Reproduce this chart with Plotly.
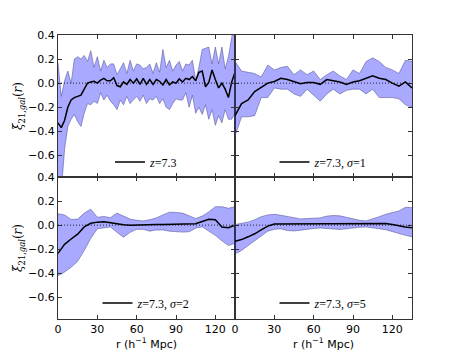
import plotly.graph_objects as go
from plotly.subplots import make_subplots

# separation r (h^-1 Mpc)
r_fine = [i * 2.5 for i in range(55)]          # z=7.3, unsmoothed
r_coarse = [i * 5 for i in range(28)]          # smoothed panels

# z=7.3
mean_1 = [-0.33, -0.37, -0.31, -0.2, -0.14, -0.12, -0.11, -0.10, -0.05, 0.0,
          0.01, 0.015, 0.0, 0.025, 0.04, 0.02, 0.02, 0.045, -0.02, -0.03,
          0.01, -0.01, 0.03, 0.0, 0.035, -0.01, 0.04, -0.01, 0.03, -0.01,
          0.03, 0.015, -0.015, 0.03, -0.015, 0.01, 0.0, 0.035, 0.01, 0.04,
          0.03, 0.055, 0.02, 0.09, 0.1, -0.03, 0.005, 0.11, 0.03, -0.04,
          0.0, -0.05, -0.12, 0.01, 0.09]
upper_1 = [0.17, -0.11, 0.02, 0.1, 0.0, 0.2, 0.22, 0.2, 0.23, 0.18,
           0.27, 0.13, 0.22, 0.1, 0.19, 0.13, 0.16, 0.16, 0.07, 0.12,
           0.17, 0.08, 0.19, 0.1, 0.16, 0.15, 0.12, 0.13, 0.16, 0.08,
           0.17, 0.09, 0.28, 0.13, 0.19, 0.1, 0.15, 0.18, 0.1, 0.16,
           0.15, 0.19, 0.025, 0.13, 0.28, 0.29, 0.3, 0.16, 0.3, 0.16,
           0.3, 0.12, 0.22, 0.38, 0.6]
lower_1 = [-0.9, -0.9, -0.55, -0.36, -0.3, -0.26, -0.32, -0.36, -0.25, -0.17,
           -0.18, -0.15, -0.17, -0.08, -0.14, -0.1, -0.15, -0.18, -0.22, -0.14,
           -0.18, -0.11, -0.17, -0.14, -0.11, -0.15, -0.1, -0.17, -0.13, -0.14,
           -0.11, -0.17, -0.13, -0.2, -0.22, -0.17, -0.13, -0.14, -0.14, -0.08,
           -0.2, -0.1, -0.25, -0.2, -0.26, -0.18, -0.3, -0.22, -0.35, -0.27,
           -0.33, -0.22, -0.3, -0.3, -0.25]

# z=7.3, sigma=1
mean_2 = [-0.27, -0.17, -0.14, -0.07, -0.035, 0.0, 0.014, 0.04, 0.03, 0.01,
          -0.005, 0.005, 0.005, -0.01, 0.03, 0.02, 0.01, -0.01, 0.01, 0.02,
          0.04, 0.06, 0.04, 0.03, 0.0, -0.025, 0.01, -0.04]
upper_2 = [0.18, 0.1, 0.09, 0.08, 0.05, 0.15, 0.11, 0.13, 0.14, 0.07,
           0.11, 0.07, 0.1, 0.03, 0.07, 0.1, 0.06, 0.03, 0.11, 0.08,
           0.18, 0.21, 0.18, 0.13, 0.11, 0.08, 0.19, 0.18]
lower_2 = [-0.44, -0.28, -0.28, -0.27, -0.12, -0.12, -0.04, -0.05, -0.05, -0.09,
           -0.11, -0.05, -0.1, -0.15, -0.09, -0.05, -0.09, -0.06, -0.05, -0.05,
           -0.09, -0.05, -0.12, -0.12, -0.12, -0.13, -0.18, -0.2]

# z=7.3, sigma=2
mean_3 = [-0.235, -0.16, -0.115, -0.075, -0.015, 0.015, 0.025, 0.028, 0.02, 0.01,
          0.003, 0.0, 0.003, 0.005, 0.006, 0.006, 0.006, 0.006, 0.006, 0.006,
          0.008, 0.012, 0.03, 0.048, 0.045, -0.015, -0.022, 0.0]
upper_3 = [0.094, 0.085, 0.047, 0.05, 0.1, 0.133, 0.065, 0.072, 0.062, 0.1,
           0.075, 0.05, 0.04, 0.035, 0.045, 0.06, 0.085, 0.108, 0.105, 0.1,
           0.078, 0.055, 0.075, 0.11, 0.153, 0.153, 0.14, 0.153]
lower_3 = [-0.42, -0.39, -0.35, -0.3, -0.21, -0.11, -0.03, -0.02, -0.015, -0.06,
           -0.1, -0.06, -0.035, -0.035, -0.05, -0.04, -0.04, -0.05, -0.055, -0.058,
           -0.055, -0.025, -0.014, -0.05, -0.085, -0.13, -0.17, -0.15]

# z=7.3, sigma=5
mean_4 = [-0.135, -0.12, -0.097, -0.072, -0.04, -0.008, 0.01, 0.01, 0.01, 0.01,
          0.01, 0.01, 0.01, 0.01, 0.01, 0.01, 0.008, 0.008, 0.008, 0.008,
          0.008, 0.008, 0.012, 0.014, 0.005, -0.008, -0.015, -0.022]
upper_4 = [0.005, 0.012, 0.025, 0.045, 0.07, 0.085, 0.09, 0.082, 0.07, 0.06,
           0.052, 0.055, 0.058, 0.06, 0.075, 0.08, 0.077, 0.065, 0.05, 0.04,
           0.035, 0.05, 0.07, 0.09, 0.105, 0.118, 0.148, 0.145]
lower_4 = [-0.24, -0.21, -0.17, -0.13, -0.085, -0.05, -0.035, -0.03, -0.045, -0.048,
           -0.042, -0.033, -0.028, -0.024, -0.03, -0.034, -0.036, -0.03, -0.022, -0.018,
           -0.015, -0.02, -0.03, -0.038, -0.055, -0.07, -0.085, -0.097]

labels = ["<i>z</i>=7.3", "<i>z</i>=7.3, <i>σ</i>=1",
          "<i>z</i>=7.3, <i>σ</i>=2", "<i>z</i>=7.3, <i>σ</i>=5"]

panels = [
    (1, 1, r_fine, mean_1, upper_1, lower_1),
    (1, 2, r_coarse, mean_2, upper_2, lower_2),
    (2, 1, r_coarse, mean_3, upper_3, lower_3),
    (2, 2, r_coarse, mean_4, upper_4, lower_4),
]

fig = make_subplots(rows=2, cols=2, horizontal_spacing=0, vertical_spacing=0)

for k, (row, col, r, m, up, lo) in enumerate(panels):
    leg = "legend" if k == 0 else "legend%d" % (k + 1)
    fig.add_trace(go.Scatter(x=r, y=up, mode="lines", showlegend=False,
                             line=dict(color="rgba(80,80,150,0.55)", width=1)),
                  row=row, col=col)
    fig.add_trace(go.Scatter(x=r, y=lo, mode="lines", showlegend=False, fill="tonexty",
                             fillcolor="rgba(40,40,255,0.4)",
                             line=dict(color="rgba(80,80,150,0.55)", width=1)),
                  row=row, col=col)
    fig.add_trace(go.Scatter(x=r, y=m, mode="lines", name=labels[k], legend=leg,
                             line=dict(color="black", width=1.5)),
                  row=row, col=col)
    fig.add_hline(y=0, line=dict(color="black", width=0.8, dash="1px,2px"), row=row, col=col)

axis_style = dict(showgrid=False, zeroline=False, showline=True, mirror="allticks",
                  linecolor="#333333", linewidth=1, ticks="inside", ticklen=4,
                  tickcolor="#333333", automargin=False,
                  tickfont=dict(family="DejaVu Sans", size=11, color="black"))

for row in (1, 2):
    for col in (1, 2):
        fig.update_xaxes(range=[0, 135], tickvals=[0, 30, 60, 90, 120],
                         showticklabels=(row == 2), row=row, col=col, **axis_style)
        fig.update_yaxes(range=[-0.78, 0.4], tickvals=[0.4, 0.2, 0.0, -0.2, -0.4, -0.6],
                         tickformat=".1f", showticklabels=(col == 1),
                         row=row, col=col, **axis_style)

xtitle = dict(text="r (h<sup>−1</sup> Mpc)", font=dict(family="DejaVu Sans", size=11, color="black"),
              standoff=4)
ytitle = dict(text="<i>ξ</i><sub>21,<i>gal</i></sub>(<i>r</i>)",
              font=dict(family="DejaVu Serif", size=12, color="black"), standoff=2)
fig.update_xaxes(title=xtitle, row=2, col=1)
fig.update_xaxes(title=xtitle, row=2, col=2)
fig.update_yaxes(title=ytitle, row=1, col=1)
fig.update_yaxes(title=ytitle, row=2, col=1)

leg_style = dict(xanchor="center", yanchor="middle", bgcolor="rgba(0,0,0,0)",
                 font=dict(family="Liberation Serif", size=12, color="black"),
                 itemwidth=30)
fig.update_layout(
    legend=dict(x=0.25, y=0.553, **leg_style),
    legend2=dict(x=0.75, y=0.553, **leg_style),
    legend3=dict(x=0.25, y=0.056, **leg_style),
    legend4=dict(x=0.75, y=0.056, **leg_style),
)

# the page adds an 8px body margin, so the figure is 8px smaller and shifted
fig.update_layout(width=450, height=348, margin=dict(l=50, r=46, t=27, b=37, autoexpand=False),
                  plot_bgcolor="white", paper_bgcolor="white")

fig.write_html("out.html")
